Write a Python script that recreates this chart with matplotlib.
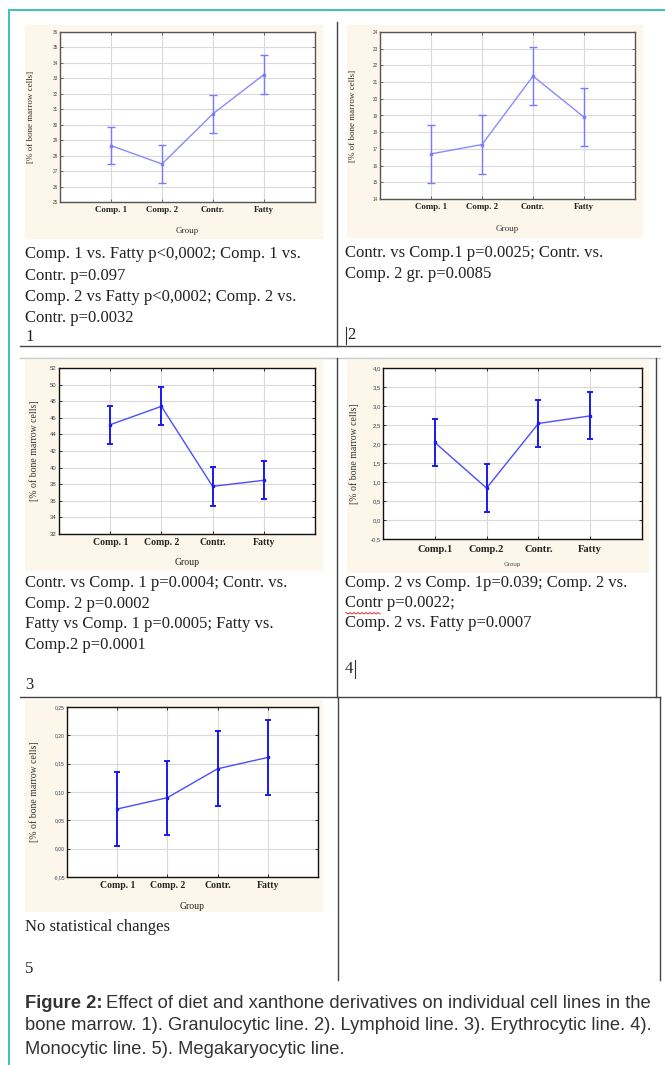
import numpy as np
import matplotlib
matplotlib.use("Agg")
import matplotlib.pyplot as plt
from matplotlib.patches import Rectangle
from matplotlib.lines import Line2D

W, H = 665, 1065
SERIF = "Liberation Serif"
SANS = "Liberation Sans"

# ---- data ----
groups = ["Comp. 1", "Comp. 2", "Contr.", "Fatty"]
groups_nospace = ["Comp.1", "Comp.2", "Contr.", "Fatty"]

gran_mean = [28.65, 27.46, 30.71, 33.25]
gran_err = [1.21, 1.24, 1.24, 1.23]
lymph_mean = [16.70, 17.26, 21.36, 18.90]
lymph_err = [1.75, 1.75, 1.76, 1.72]
eryth_mean = [45.17, 47.38, 37.74, 38.47]
eryth_err = [2.27, 2.29, 2.35, 2.27]
mono_mean = [2.04, 0.84, 2.54, 2.74]
mono_err = [0.63, 0.64, 0.63, 0.62]
mega_mean = [0.070, 0.090, 0.141, 0.161]
mega_err = [0.065, 0.065, 0.066, 0.066]

ylabel = "[% of bone marrow cells]"

text1 = ["Comp. 1 vs. Fatty p<0,0002; Comp. 1 vs.", "Contr. p=0.097",
         "Comp. 2 vs Fatty p<0,0002; Comp. 2 vs.", "Contr. p=0.0032", "1"]
text2 = ["Contr. vs Comp.1 p=0.0025; Contr. vs.", "Comp. 2 gr. p=0.0085"]
text3 = ["Contr. vs Comp. 1 p=0.0004; Contr. vs.", "Comp. 2 p=0.0002",
         "Fatty vs Comp. 1 p=0.0005; Fatty vs.", "Comp.2 p=0.0001"]
text4 = ["Comp. 2 vs Comp. 1p=0.039; Comp. 2 vs.", "Contr p=0.0022;",
         "Comp. 2 vs. Fatty p=0.0007"]
text5 = ["No statistical changes"]
caption = ["Effect of diet and xanthone derivatives on individual cell lines in the",
           "bone marrow. 1). Granulocytic line. 2). Lymphoid line. 3). Erythrocytic line. 4).",
           "Monocytic line. 5). Megakaryocytic line."]

fig = plt.figure(figsize=(W / 100, H / 100), dpi=100)
fig.patch.set_facecolor("white")


def fx(px):
    return px / W


def fy(py):
    return 1 - py / H


def hline(x0, x1, y, color="#444444", lw=1.0):
    fig.add_artist(Line2D([fx(x0), fx(x1)], [fy(y), fy(y)], color=color, lw=lw))


def vline(x, y0, y1, color="#444444", lw=1.0):
    fig.add_artist(Line2D([fx(x), fx(x)], [fy(y0), fy(y1)], color=color, lw=lw))


def put(x, y, s, **kw):
    fig.text(fx(x), fy(y), s, va="center", ha="left", **kw)


def chart(panel, box, mean, err, ylim, step, fmt, labels, st):
    p0, q0, p1, q1 = panel
    fig.add_artist(Rectangle((fx(p0), fy(q1)), (p1 - p0) / W, (q1 - q0) / H,
                             transform=fig.transFigure, facecolor="#fcf7ea",
                             edgecolor="none", zorder=0))
    l, t, r, b = box
    ax = fig.add_axes([fx(l), fy(b), (r - l) / W, (b - t) / H])
    x = np.arange(len(mean))
    ax.plot(x, mean, color=st["line"], lw=st["lw"], zorder=3)
    ax.errorbar(x, mean, yerr=err, fmt="none", ecolor=st["err"], elinewidth=st["elw"],
                capsize=st["cap"], capthick=st["elw"], zorder=4)
    ax.plot(x, mean, ls="none", marker="s", ms=2, color=st["err"], zorder=5)
    ax.set_xlim(-1, 4)
    ax.set_ylim(*ylim)
    ticks = np.arange(ylim[0], ylim[1] + step / 2, step)
    ax.set_yticks(ticks)
    ax.set_yticklabels([fmt(v) for v in ticks], fontsize=st["ytfs"], color=st["ytc"],
                       family=st["ytfam"])
    ax.set_xticks(x)
    ax.set_xticklabels(labels, fontsize=st["xtfs"], family=SERIF, weight="bold", color="#222222")
    ax.grid(True, color="#d9d9d9", lw=0.8)
    ax.set_axisbelow(True)
    ax.tick_params(axis="both", direction="in", length=2, width=0.6, top=True, right=True,
                   color=st["spine"])
    ax.tick_params(axis="x", pad=st["xpad"])
    ax.tick_params(axis="y", pad=st["ypad"])
    for s in ax.spines.values():
        s.set_color(st["spine"])
        s.set_linewidth(1.0)
    ax.set_xlabel("Group", fontsize=st["gfs"], family=st["gfam"], color=st["gc"])
    ax.xaxis.set_label_coords(0.5, -(st["gy"] - b) / (b - t))
    ax.set_ylabel(ylabel, fontsize=st["ylfs"], family=SERIF, color="#333333")
    ax.yaxis.set_label_coords(-(l - st["ylx"]) / (r - l), 0.5)
    return ax


light = dict(line="#8a8aff", lw=1.0, err="#7a7aff", elw=1.0, cap=3.0, spine="#555555",
             ytfs=3.3, ytc="#444444", ytfam=SANS, xtfs=6.4, xpad=3.2, ypad=1.5,
             gfs=6.5, gfam=SERIF, gc="#333333", ylfs=6.5)
dark = dict(line="#4d4dff", lw=1.0, err="#1a1aee", elw=1.4, cap=2.5, spine="#111111",
            ytfs=4.3, ytc="#334455", ytfam=SANS, xtfs=7.0, xpad=3.2, ypad=1.5,
            gfs=7.0, gfam=SERIF, gc="#222222", ylfs=7.0)

# 1) Granulocytic
chart((25, 25, 323, 239), (60, 32, 315, 202), gran_mean, gran_err, (25, 36), 1,
      lambda v: f"{v:.0f}", groups, dict(light, gy=227, ylx=35))
# 2) Lymphoid
chart((347, 25, 643, 238), (380, 32, 635, 199), lymph_mean, lymph_err, (14, 24), 1,
      lambda v: f"{v:.0f}", groups, dict(light, gy=225, ylx=357))
# 3) Erythrocytic
chart((25, 360, 323, 571), (59, 368, 315, 534), eryth_mean, eryth_err, (32, 52), 2,
      lambda v: f"{v:.0f}", groups, dict(dark, gy=558, ylx=39))
# 4) Monocytic
chart((347, 360, 649, 573), (383, 368, 642, 539), mono_mean, mono_err, (-0.5, 4.0), 0.5,
      lambda v: f"{v:.1f}".replace(".", ","), groups_nospace,
      dict(dark, gy=562, ylx=359, gfs=4.5, gfam=SANS, gc="#555555", xtfs=7.6, xpad=4.2))
# 5) Megakaryocytic
chart((25, 700, 323, 912), (67, 707, 318, 877), mega_mean, mega_err, (-0.05, 0.25), 0.05,
      lambda v: f"{v:.2f}".replace(".", ",").replace("-0,00", "0,00"), groups,
      dict(dark, gy=902, ylx=39, ytfs=3.6, xpad=2.8))

# ---- table text ----
tkw = dict(family=SERIF, fontsize=12, color="#222222")
for y, s in zip([254, 276, 297, 318, 337], text1):
    put(25, y, s, **tkw)
for y, s in zip([253, 274], text2):
    put(345, y, s, **tkw)
put(347, 335, "2", **tkw)
vline(346, 327, 344, color="#333333", lw=0.8)
for y, s in zip([583, 604, 624, 645], text3):
    put(25, y, s, **tkw)
put(25, 685, "3", **tkw)
for y, s in zip([583, 603, 623], text4):
    put(345, y, s, **tkw)
put(345, 669, "4", **tkw)
vline(355, 660, 678, color="#333333", lw=0.8)
# red spell-check squiggle under "Contr"
zx = np.arange(346, 382, 2.0)
zy = 612.5 + 1.5 * (np.arange(len(zx)) % 2)
fig.add_artist(Line2D(fx(zx), fy(zy), color="#e03030", lw=0.7))
put(25, 927, text5[0], **tkw)
put(25, 969, "5", **tkw)

# ---- table borders ----
vline(337, 22, 346)
hline(20, 660, 346)
hline(20, 660, 358, color="#c8c8c8")
vline(337, 358, 697)
vline(656, 358, 697)
hline(20, 660, 697)
vline(338, 697, 980)
vline(660, 697, 980)

# teal frame
fig.add_artist(Line2D([fx(10), fx(665)], [fy(10), fy(10)], color="#44c2b5", lw=1.5))
fig.add_artist(Line2D([fx(9), fx(9)], [fy(10), fy(1065)], color="#44c2b5", lw=1.5))

# ---- caption ----
ckw = dict(family=SANS, fontsize=13.2, color="#333333")
t = fig.text(fx(25), fy(1004), "Figure 2:", va="center", ha="left", weight="bold", **ckw)
fig.canvas.draw()
bb = t.get_window_extent()
put(bb.x1 + 4, 1004, caption[0], **ckw)
put(25, 1026, caption[1], **ckw)
put(25, 1049, caption[2], **ckw)

fig.savefig("out.png", dpi=100)
